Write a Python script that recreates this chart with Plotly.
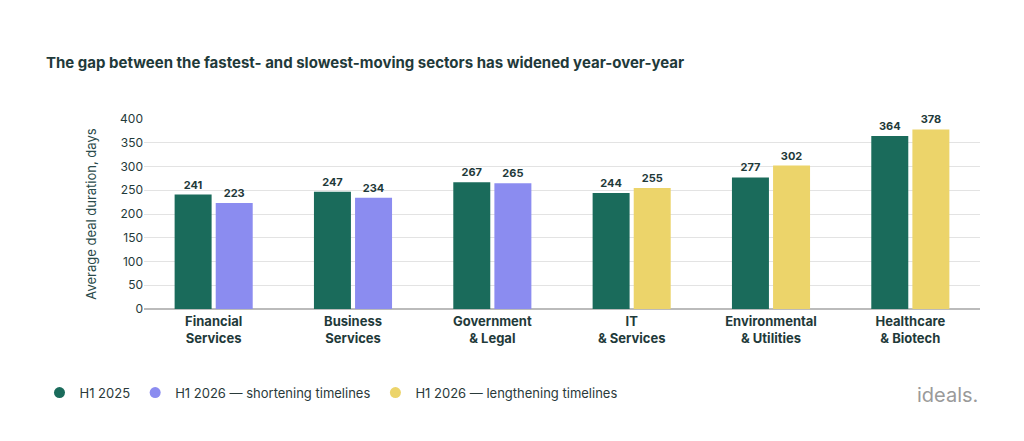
import plotly.graph_objects as go

categorias = ["<b>Financial<br>Services</b>", "<b>Business<br>Services</b>", "<b>Government<br>& Legal</b>",
              "<b>IT<br>& Services</b>", "<b>Environmental<br>& Utilities</b>", "<b>Healthcare<br>& Biotech</b>"]
h1_2025 = [241, 247, 267, 244, 277, 364]
h1_2026_corto = [223, 234, 265, None, None, None]
h1_2026_largo = [None, None, None, 255, 302, 378]

VERDE = "#1a6b5b"
MORADO = "#8b8cf0"
AMARILLO = "#ecd46a"

def etiquetas(vals):
    return [f"<b>{v}</b>" if v is not None else "" for v in vals]

fig = go.Figure()
fig.add_bar(x=categorias, y=h1_2025, name="H1 2025", marker_color=VERDE, offsetgroup="a",
            text=etiquetas(h1_2025), textposition="outside", cliponaxis=False, showlegend=False)
fig.add_bar(x=categorias, y=h1_2026_corto, name="H1 2026 — shortening timelines", marker_color=MORADO,
            offsetgroup="b", text=etiquetas(h1_2026_corto), textposition="outside", cliponaxis=False,
            showlegend=False)
fig.add_bar(x=categorias, y=h1_2026_largo, name="H1 2026 — lengthening timelines", marker_color=AMARILLO,
            offsetgroup="b", text=etiquetas(h1_2026_largo), textposition="outside", cliponaxis=False,
            showlegend=False)
fig.update_traces(textfont=dict(size=11, color="#1f3a3a"), marker_line_width=0)

# entradas de leyenda con círculos
for nombre, color in [("H1 2025", VERDE), ("H1 2026 — shortening timelines", MORADO),
                      ("H1 2026 — lengthening timelines", AMARILLO)]:
    fig.add_scatter(x=[None], y=[None], mode="markers", name=nombre,
                    marker=dict(color=color, size=11, symbol="circle"))

fig.update_layout(
    width=1024, height=441,
    barmode="group", bargap=0.41, bargroupgap=0.1,
    plot_bgcolor="white", paper_bgcolor="white",
    font=dict(family="Inter, Lato, sans-serif", color="#1f3a3a", size=12),
    margin=dict(l=136, r=52, t=111, b=140),
    showlegend=True,
    legend=dict(orientation="h", x=-0.125, y=-0.44, xanchor="left", yanchor="middle",
                font=dict(size=13, color="#2a3a3a"), traceorder="normal"),
    annotations=[
        dict(text="<b>The gap between the fastest- and slowest-moving sectors has widened year-over-year</b>",
             x=(45 - 145) / 835, y=1 + (111 - 55) / 190, xref="paper", yref="paper",
             xanchor="left", yanchor="middle", showarrow=False, font=dict(size=15, color="#1f3a3a")),
        dict(text="ideals.", x=1.0, y=-0.45, xref="paper", yref="paper", xanchor="right", yanchor="middle",
             showarrow=False, font=dict(size=20, color="#9a9a9a")),
    ],
)

fig.update_yaxes(range=[0, 400], dtick=50, showgrid=True, gridcolor="#e3e3e3", zeroline=True,
                 zerolinecolor="#bbbbbb", ticks="", tickfont=dict(size=12, color="#1f3a3a"),
                 title=dict(text="Average deal duration, days", font=dict(size=13, color="#2a4a4a"), standoff=20))
fig.update_xaxes(showline=True, linecolor="#bbbbbb", ticks="", tickfont=dict(size=13, color="#1f3a3a"))

fig.write_html("out.html")
